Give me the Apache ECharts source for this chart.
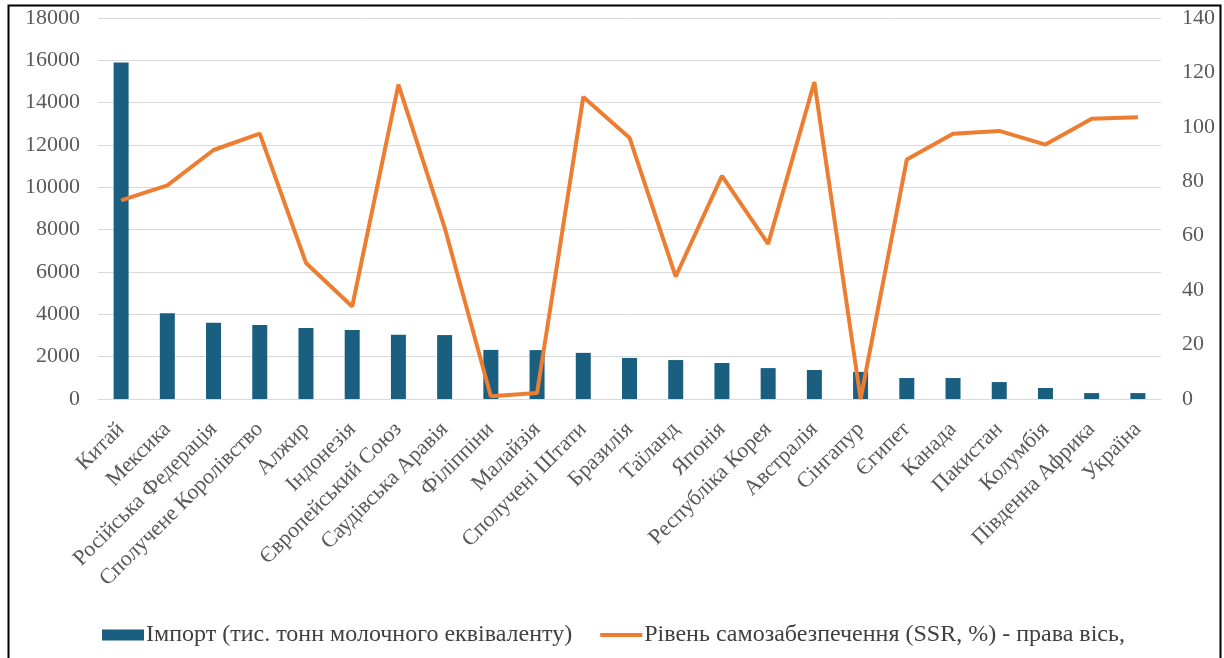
<!DOCTYPE html>
<html>
<head>
<meta charset="utf-8">
<script src="https://cdn.jsdelivr.net/npm/echarts@6/dist/echarts.min.js"></script>
<style>
  html, body { margin: 0; padding: 0; background: #fff; }
  #chart { width: 1224px; height: 658px; }
</style>
</head>
<body>
<div id="chart"></div>
<script>
// Countries
const countries = [
  'Китай', 'Мексика', 'Російська Федерація', 'Сполучене Королівство', 'Алжир',
  'Індонезія', 'Європейський Союз', 'Саудівська Аравія', 'Філіппіни', 'Малайзія',
  'Сполучені Штати', 'Бразилія', 'Таїланд', 'Японія', 'Республіка Корея',
  'Австралія', 'Сінгапур', 'Єгипет', 'Канада', 'Пакистан',
  'Колумбія', 'Південна Африка', 'Україна'
];
// Import, thousand tonnes of milk equivalent (left axis)
const importValues = [
  15900, 4050, 3600, 3500, 3350,
  3260, 3030, 3020, 2320, 2310,
  2180, 1940, 1840, 1700, 1460,
  1370, 1280, 990, 990, 800,
  520, 280, 280
];
// Self-sufficiency ratio, % (right axis)
const ssrValues = [
  73, 78.5, 91.5, 97.5, 50,
  34, 115.5, 63, 1, 2.2,
  111, 96, 45, 82, 57,
  116.5, 0, 88, 97.5, 98.5,
  93.5, 103, 103.5
];
const leftTicks = { min: 0, max: 18000, interval: 2000 };
const rightTicks = { min: 0, max: 140, interval: 20 };

const seriesNames = [
  'Імпорт (тис. тонн молочного еквіваленту)',
  'Рівень самозабезпечення (SSR, %) - права вісь,'
];

const font = '"Liberation Serif", "DejaVu Serif", serif';
const chart = echarts.init(document.getElementById('chart'));
chart.setOption({
  animation: false,
  textStyle: { fontFamily: font },
  graphic: [{
    type: 'rect',
    shape: { x: 8.5, y: 5.5, width: 1212, height: 660 },
    style: { fill: 'none', stroke: '#000', lineWidth: 2 },
    silent: true
  }],
  grid: { left: 98, right: 63, top: 18, bottom: 259 },
  legend: {
    top: 618,
    left: 97,
    itemWidth: 42,
    itemHeight: 11,
    itemGap: 28,
    symbolKeepAspect: true,
    textStyle: { fontFamily: font, fontSize: 24, color: '#404040', padding: [0, 0, 0, -3] },
    data: [
      { name: seriesNames[0], icon: 'rect' },
      { name: seriesNames[1], icon: 'path://M0,0H42V4H0Z' }
    ]
  },
  xAxis: {
    type: 'category',
    data: countries,
    axisTick: { show: false },
    axisLine: { lineStyle: { color: '#d9d9d9', width: 1 } },
    axisLabel: {
      rotate: 45,
      interval: 0,
      margin: 27,
      fontFamily: font,
      fontSize: 22,
      color: '#595959'
    }
  },
  yAxis: [
    {
      type: 'value',
      min: leftTicks.min, max: leftTicks.max, interval: leftTicks.interval,
      axisLine: { show: false },
      axisTick: { show: false },
      splitLine: { lineStyle: { color: '#d9d9d9', width: 1 } },
      axisLabel: { fontFamily: font, fontSize: 22, color: '#595959', margin: 18, formatter: v => String(v) }
    },
    {
      type: 'value',
      min: rightTicks.min, max: rightTicks.max, interval: rightTicks.interval,
      axisLine: { show: false },
      axisTick: { show: false },
      splitLine: { show: false },
      axisLabel: { fontFamily: font, fontSize: 22, color: '#595959', margin: 21, formatter: v => String(v) }
    }
  ],
  series: [
    {
      name: seriesNames[0],
      type: 'bar',
      data: importValues,
      barWidth: 15,
      itemStyle: { color: '#1a5e80' }
    },
    {
      name: seriesNames[1],
      type: 'line',
      yAxisIndex: 1,
      data: ssrValues,
      symbol: 'none',
      lineStyle: { color: '#ed7d31', width: 4 },
      itemStyle: { color: '#ed7d31' }
    }
  ]
});
</script>
</body>
</html>
